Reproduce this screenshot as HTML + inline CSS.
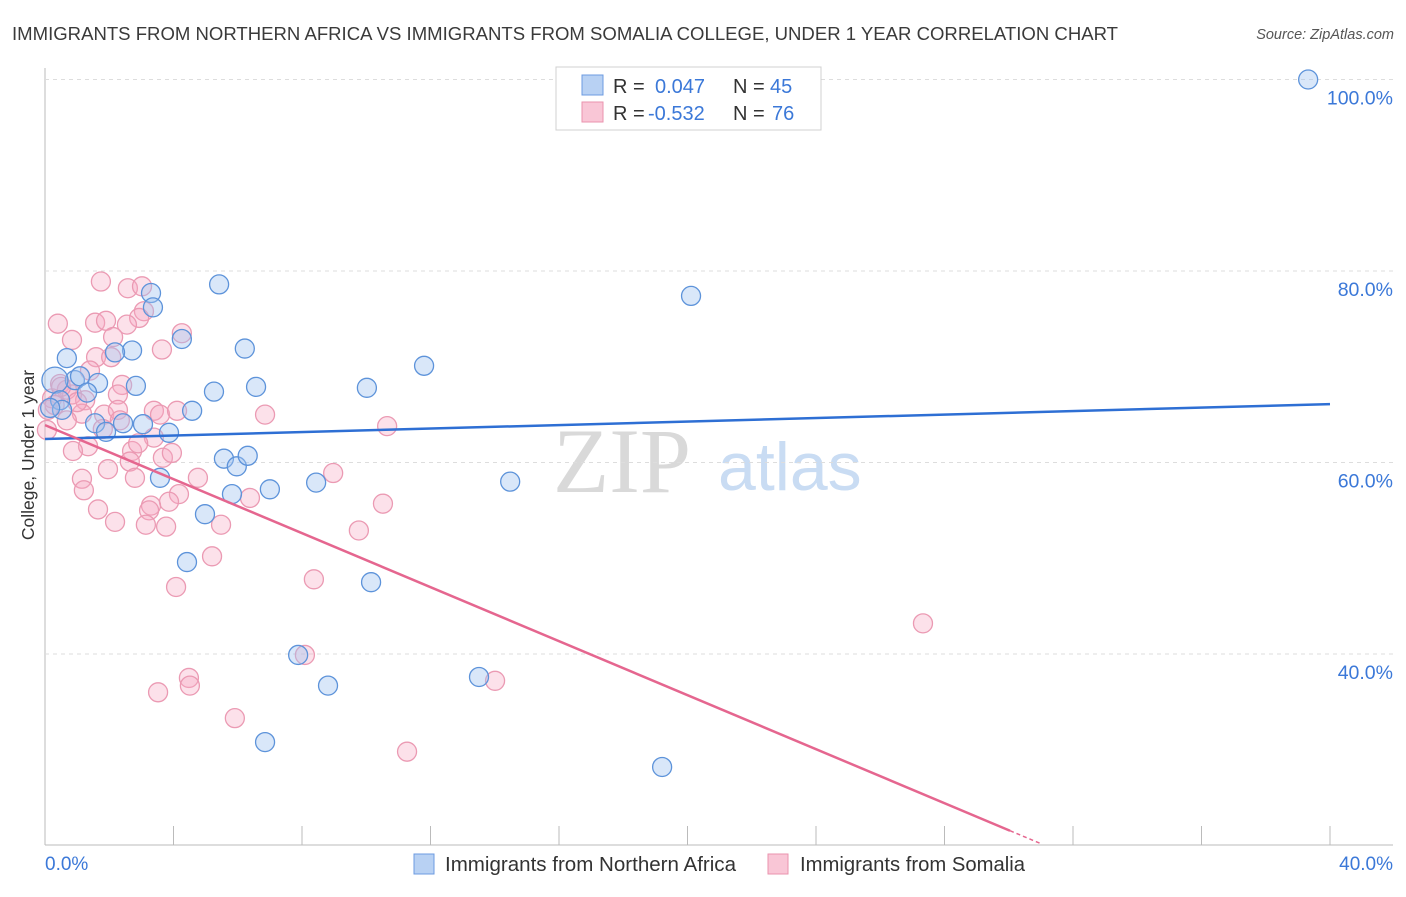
<!DOCTYPE html>
<html><head><meta charset="utf-8"><style>
body{margin:0;background:#fff;font-family:"Liberation Sans",sans-serif}
</style></head><body>
<svg width="1406" height="892" xmlns="http://www.w3.org/2000/svg" font-family="Liberation Sans, sans-serif">
<text x="12" y="40" font-size="18" fill="#3a3a3a" textLength="1106" lengthAdjust="spacingAndGlyphs">IMMIGRANTS FROM NORTHERN AFRICA VS IMMIGRANTS FROM SOMALIA COLLEGE, UNDER 1 YEAR CORRELATION CHART</text>
<text x="1394" y="39" font-size="14.5" fill="#555" font-style="italic" text-anchor="end">Source: ZipAtlas.com</text>
<g><text x="553" y="492" font-size="92" fill="#d9d9d9" font-family="Liberation Serif, serif">ZIP</text><text x="718" y="490" font-size="68" fill="#c9dcf3">atlas</text></g>
<g id="grid"></g><g id="marks"></g><g id="trends"></g>
<text transform="translate(34,455) rotate(-90)" font-size="17.5" fill="#333" text-anchor="middle">College, Under 1 year</text>
<text x="45" y="870" font-size="19" fill="#3b78d8">0.0%</text>
<text x="1393" y="870" font-size="19" fill="#3b78d8" text-anchor="end">40.0%</text>
<g>
<rect x="556" y="67" width="265" height="63" fill="#fff" stroke="#d0d0d0"/>
<rect x="582" y="75" width="21" height="20" fill="#b8d1f3" stroke="#6c9be0"/>
<rect x="582" y="102" width="21" height="20" fill="#f9c6d6" stroke="#ea93ae"/>
<text x="613" y="93" font-size="20" fill="#333">R =</text><text x="655" y="93" font-size="20" fill="#3b78d8">0.047</text>
<text x="733" y="93" font-size="20" fill="#333">N =</text><text x="770" y="93" font-size="20" fill="#3b78d8">45</text>
<text x="613" y="120" font-size="20" fill="#333">R =</text><text x="648" y="120" font-size="20" fill="#3b78d8">-0.532</text>
<text x="733" y="120" font-size="20" fill="#333">N =</text><text x="772" y="120" font-size="20" fill="#3b78d8">76</text>
</g>
<g>
<rect x="414" y="854" width="20" height="20" fill="#b8d1f3" stroke="#6c9be0"/>
<text x="445" y="871" font-size="20" fill="#333" textLength="291" lengthAdjust="spacingAndGlyphs">Immigrants from Northern Africa</text>
<rect x="768" y="854" width="20" height="20" fill="#f9c6d6" stroke="#ea93ae"/>
<text x="800" y="871" font-size="20" fill="#333" textLength="225" lengthAdjust="spacingAndGlyphs">Immigrants from Somalia</text>
</g>
</svg>
<script>
const yTicks=[40,60,80,100];
const yTickLabels=["40.0%","60.0%","80.0%","100.0%"];
const xTicks=[0,4,8,12,16,20,24,28,32,36,40];
const blueX=[39.32,5.42,3.30,3.36,20.11,4.26,6.22,2.71,2.18,0.68,11.80,2.83,1.65,0.93,1.09,5.26,6.57,10.02,4.58,0.31,0.47,0.53,1.56,1.90,2.43,3.05,3.86,5.57,5.97,6.31,3.58,5.82,7.00,8.44,14.48,4.98,4.42,10.15,7.88,8.81,13.51,6.85,19.21,1.31,0.16];
const blueY=[100,78.6,77.7,76.2,77.4,72.9,71.9,71.7,71.5,70.9,70.1,68.0,68.3,68.6,69.0,67.4,67.9,67.8,65.4,68.6,66.5,65.5,64.1,63.2,64.1,64.0,63.1,60.4,59.6,60.7,58.4,56.7,57.2,57.9,58.0,54.6,49.6,47.5,39.9,36.7,37.6,30.8,28.2,67.3,65.7];
const pinkX=[1.74,2.58,3.02,3.08,2.93,0.40,1.56,1.90,2.55,0.84,2.12,4.26,3.64,1.59,2.06,1.40,0.47,0.68,0.84,2.40,2.27,1.25,0.09,1.15,1.84,2.27,3.39,3.58,4.11,6.85,10.65,0.68,2.33,3.39,1.34,0.87,2.71,3.67,3.95,2.64,1.96,1.15,1.21,2.80,4.76,8.97,4.17,3.86,3.30,3.24,6.38,10.52,1.65,2.18,3.14,3.77,5.48,9.77,5.20,4.08,8.37,27.33,8.09,4.48,4.51,3.52,14.01,5.91,11.27,0.06,0.22,0.30,1.0,2.9,0.5,1.8];
const pinkY=[78.9,78.2,78.4,75.8,75.1,74.5,74.6,74.8,74.4,72.8,73.1,73.5,71.8,71.0,71.0,69.6,68.2,67.6,67.1,68.1,67.1,66.5,65.5,65.1,65.0,65.5,65.4,65.0,65.4,65.0,63.8,64.4,64.4,62.6,61.7,61.2,61.2,60.5,61.0,60.1,59.3,58.3,57.1,58.4,58.4,58.9,56.7,55.9,55.5,55.0,56.3,55.7,55.1,53.8,53.5,53.3,53.5,52.9,50.2,47.0,47.8,43.2,39.9,37.5,36.7,36.0,37.2,33.3,29.8,63.4,66.7,66.0,66.3,62.0,67.9,63.5];
const blueTrend=[62.45,66.1];
const pinkTrend=[63.9,-1.41];
const pinkSolidEnd=30.04, pinkDashEnd=31.0;
const NS="http://www.w3.org/2000/svg";
const xs=v=>45+v/40*1285;
const ys=v=>79.5+(100-v)/20*191.5;
function mk(t,a,p){const e=document.createElementNS(NS,t);for(const k in a)e.setAttribute(k,a[k]);p.appendChild(e);return e;}
const grid=document.getElementById('grid');
let ax=mk('line',{x1:45,y1:68,x2:45,y2:845,stroke:'#bbb','stroke-width':1},grid);


let bx=mk('line',{x1:45,y1:845,x2:1393,y2:845,stroke:'#bbb','stroke-width':1},grid);


yTicks.forEach((t,i)=>{
 const g=mk('line',{x1:45,y1:ys(t),x2:1393,y2:ys(t),stroke:'#ddd','stroke-dasharray':'4,4'},grid);
 
 
 const l=mk('text',{x:1393,y:ys(t)+25,'font-size':19.5,fill:'#3b78d8','text-anchor':'end'},grid);
 l.textContent=yTickLabels[i];
 
 
});
xTicks.forEach(t=>{
 const k=mk('line',{x1:xs(t),y1:826,x2:xs(t),y2:845,stroke:'#bbb'},grid);
 
 
});
const marks=document.getElementById('marks');
pinkX.forEach((v,i)=>{
 const c=mk('circle',{cx:xs(v),cy:ys(pinkY[i]),r:9.5,fill:'rgba(245,170,195,0.35)',stroke:'#eb9ab3','stroke-width':1.3},marks);
 
 
});
blueX.forEach((v,i)=>{
 const c=mk('circle',{cx:xs(v),cy:ys(blueY[i]),r:(i==19?13:9.5),fill:'rgba(160,195,240,0.4)',stroke:'#5d93da','stroke-width':1.3},marks);
 
 
});
const tr=document.getElementById('trends');
let b=mk('line',{x1:xs(0),y1:ys(blueTrend[0]),x2:xs(40),y2:ys(blueTrend[1]),stroke:'#2e6fd4','stroke-width':2.5},tr);


const py=x=>pinkTrend[0]+pinkTrend[1]*x;
let p=mk('line',{x1:xs(0),y1:ys(py(0)),x2:xs(pinkSolidEnd),y2:ys(py(pinkSolidEnd)),stroke:'#e5668f','stroke-width':2.5},tr);


let pd=mk('line',{x1:xs(pinkSolidEnd),y1:ys(py(pinkSolidEnd)),x2:xs(pinkDashEnd),y2:ys(py(pinkDashEnd)),stroke:'#e5668f','stroke-width':1.5,'stroke-dasharray':'4,3'},tr);


</script>
</body></html>
